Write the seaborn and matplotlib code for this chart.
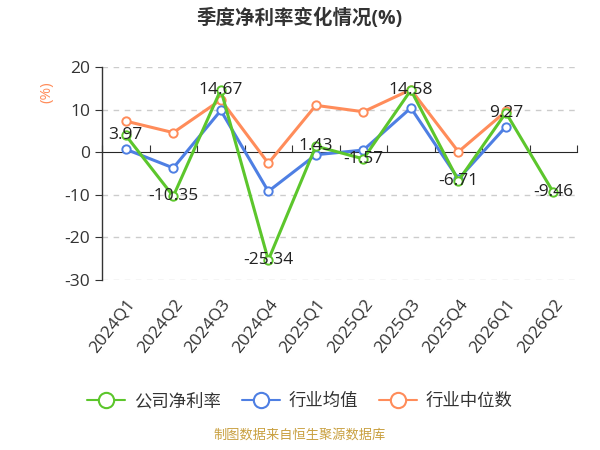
import numpy as np
import seaborn as sns
import matplotlib.pyplot as plt
from matplotlib.lines import Line2D

# data
quarters = ['2024Q1', '2024Q2', '2024Q3', '2024Q4', '2025Q1',
            '2025Q2', '2025Q3', '2025Q4', '2026Q1', '2026Q2']
company = [3.97, -10.35, 14.67, -25.34, 1.43, -1.57, 14.58, -6.71, 9.27, -9.46]
ind_mean = [0.7, -3.7, 9.8, -9.2, -0.6, 0.5, 10.4, -6.3, 6.0, np.nan]
ind_median = [7.3, 4.6, 12.3, -2.6, 11.0, 9.5, 14.7, 0.1, 9.6, np.nan]

series_names = ['公司净利率', '行业均值', '行业中位数']
colors = ['#5cc62c', '#4e7fe3', '#ff8c5a']

sns.set_style('white')
plt.rcParams['font.family'] = ['Open Sans', 'Noto Sans CJK SC', 'DejaVu Sans']
plt.rcParams['axes.unicode_minus'] = False

fig = plt.figure(figsize=(6, 4.5), dpi=100)
ax = fig.add_axes([0.17, 0.378, 0.792, 0.473])

x = np.arange(len(quarters))
for vals, c in zip([ind_median, ind_mean, company], colors[::-1]):
    sns.lineplot(x=x, y=vals, ax=ax, color=c, linewidth=2.2,
                 marker='o', markersize=6, markerfacecolor='white',
                 markeredgecolor=c, markeredgewidth=1.4, zorder=3)

# data labels for the company line
for xi, v in zip(x, company):
    ax.text(xi, v, f'{v:.2f}', ha='center', va='center',
            fontsize=12.5, color='#222222', zorder=5)

ax.set_xlim(-0.5, len(quarters) - 0.5)
ax.set_ylim(-30, 20)
ax.set_yticks([20, 10, 0, -10, -20, -30])
for yv in [20, 10, -10, -20, -30]:
    ax.axhline(yv, color='#cccccc', linewidth=1, linestyle=(0, (4, 4)), zorder=1)

for s in ['top', 'right', 'bottom']:
    ax.spines[s].set_visible(False)
ax.spines['left'].set_color('#333333')
ax.spines['left'].set_linewidth(1)
ax.tick_params(axis='y', left=True, length=5, color='#333333',
               labelsize=12.5, labelcolor='#333333')

ax.set_xticks(x)
ax.set_xticklabels(quarters, rotation=52, ha='right', va='top',
                   rotation_mode='anchor', fontsize=12.5, color='#333333')
ax.tick_params(axis='x', bottom=False, pad=8)

# zero axis line with category boundary ticks
zero_axis = ax.secondary_xaxis(0.6)
zero_axis.spines['bottom'].set_color('#333333')
zero_axis.set_xticks(np.arange(-0.5, len(quarters), 1))
zero_axis.set_xticklabels([])
zero_axis.tick_params(axis='x', length=5, color='#333333', direction='out')

ax.set_ylabel('(%)', color='#ff8c5a', fontsize=11, labelpad=6)
ax.yaxis.set_label_coords(-0.1, 0.88)

fig.suptitle('季度净利率变化情况(%)', fontsize=14, fontweight='bold',
             color='#333333', y=0.98)

handles = [Line2D([0], [0], color=c, linewidth=1.5, marker='o', markersize=11,
                  markerfacecolor='white', markeredgecolor=c, markeredgewidth=1.5)
           for c in colors]
fig.legend(handles, series_names, loc='center', bbox_to_anchor=(0.5, 0.107),
           ncol=3, frameon=False, fontsize=12.5, handlelength=2.2,
           columnspacing=1.2, handletextpad=0.5, labelcolor='#333333')

fig.text(0.5, 0.018, '制图数据来自恒生聚源数据库', ha='center', va='bottom',
         fontsize=9.5, color='#c9a040')

fig.savefig('out.png', dpi=100)
